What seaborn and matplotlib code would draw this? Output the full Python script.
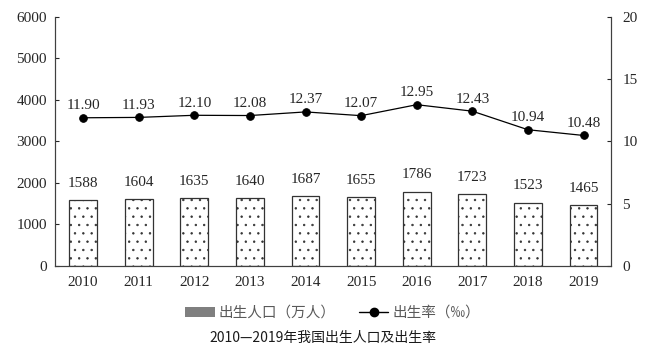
import numpy as np
import pandas as pd
import matplotlib
matplotlib.use("Agg")
import matplotlib.pyplot as plt
from matplotlib.lines import Line2D
from matplotlib.patches import Patch
import seaborn as sns

# data
years = ["2010", "2011", "2012", "2013", "2014", "2015", "2016", "2017", "2018", "2019"]
births = [1588, 1604, 1635, 1640, 1687, 1655, 1786, 1723, 1523, 1465]
rate = [11.90, 11.93, 12.10, 12.08, 12.37, 12.07, 12.95, 12.43, 10.94, 10.48]
rate_labels = ["11.90", "11.93", "12.10", "12.08", "12.37", "12.07", "12.95", "12.43", "10.94", "10.48"]

df = pd.DataFrame({"year": years, "births": births, "rate": rate})

sns.set_style("white")
plt.rcParams["font.family"] = ["Liberation Serif", "DejaVu Sans"]
plt.rcParams["hatch.linewidth"] = 0.5
cjk = ["Noto Sans CJK SC", "DejaVu Sans"]

fig = plt.figure(figsize=(6.66, 3.59), dpi=100)
ax = fig.add_axes([0.083, 0.259, 0.835, 0.694])

sns.barplot(data=df, x="year", y="births", color="white", edgecolor="#333333",
            linewidth=0.9, width=0.5, ax=ax)
for p in ax.patches:
    p.set_hatch("..")
    p.set_facecolor("white")

for i, v in enumerate(births):
    ax.text(i, v + 250, str(v), ha="center", va="bottom", fontsize=11)

ax.set_ylim(0, 6000)
ax.set_yticks(range(0, 6001, 1000))
ax.set_xlabel("")
ax.set_ylabel("")
ax.tick_params(axis="y", direction="in", length=3, labelsize=11, left=True, pad=6)
ax.tick_params(axis="x", length=0, labelsize=11, pad=7)

ax2 = ax.twinx()
sns.pointplot(data=df, x="year", y="rate", color="black", markers="o",
              linewidth=0.9, markersize=5.5, ax=ax2)
for i, v in enumerate(rate):
    ax2.text(i, v + 0.45, rate_labels[i], ha="center", va="bottom", fontsize=11)
ax2.set_ylim(0, 20)
ax2.set_yticks(range(0, 21, 5))
ax2.set_ylabel("")
ax2.tick_params(axis="y", direction="in", length=3, labelsize=11, right=True, pad=8)

for a in (ax, ax2):
    a.spines["top"].set_visible(False)
    for s in ("left", "right", "bottom"):
        a.spines[s].set_color("#404040")
        a.spines[s].set_linewidth(0.8)

handles = [Patch(facecolor="#7f7f7f", edgecolor="none"),
           Line2D([0], [0], color="black", marker="o", markersize=6, linewidth=1)]
fig.legend(handles, ["出生人口（万人）", "出生率（‰）"], loc="center",
           bbox_to_anchor=(0.5, 0.128), ncol=2, frameon=False,
           prop={"family": cjk, "size": 10.5}, labelcolor="#595959",
           handlelength=2.0, columnspacing=1.6, handletextpad=0.3)

fig.text(0.485, 0.058, "2010—2019年我国出生人口及出生率", ha="center", va="center",
         fontsize=10, family=cjk, color="#1a1a1a")

fig.savefig("out.png", dpi=100)
